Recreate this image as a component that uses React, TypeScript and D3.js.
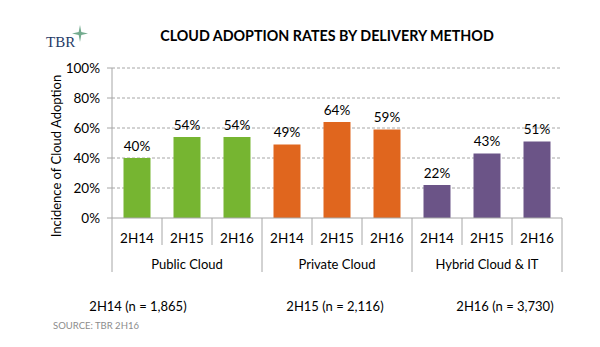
import React from "react";
import * as d3 from "d3";

const groups = ["Public Cloud", "Private Cloud", "Hybrid Cloud & IT"];
const periods = ["2H14", "2H15", "2H16"];
const publicValues = [40, 54, 54];
const privateValues = [49, 64, 59];
const hybridValues = [22, 43, 51];
const groupColors = ["#76b531", "#e0661e", "#6b5487"];
const yTicks = [0, 20, 40, 60, 80, 100];
const sampleLabels = ["2H14 (n = 1,865)", "2H15 (n = 2,116)", "2H16 (n = 3,730)"];

const W = 600, H = 347;
const left = 112, right = 562, top = 68, bottom = 218;
const FONT = "Lato, 'Open Sans', sans-serif";

export default function App() {
  const seriesValues = [publicValues, privateValues, hybridValues];
  const items = groups.flatMap((g, gi) =>
    periods.map((p, pi) => ({ key: `${g}-${p}`, group: g, gi, period: p, value: seriesValues[gi][pi] }))
  );
  const x = d3.scaleBand<string>().domain(items.map((d) => d.key)).range([left, right]).paddingInner(0.46).paddingOuter(0.23);
  const step = x.step();
  const y = d3.scaleLinear().domain([0, 100]).range([bottom, top]);
  const gray = "#a6a6a6";

  return (
    <svg width={W} height={H} style={{ position: "absolute", left: 0, top: 0, background: "#fff" }} fontFamily={FONT}>
      {/* logo */}
      <text x={46} y={47} fontFamily="'Liberation Serif', serif" fontSize={15} fill="#1f3a66">TBR</text>
      <path d="M80,25 L81.3,32 L88,33.5 L81.3,35 L80,42 L78.7,35 L72,33.5 L78.7,32 Z" fill="#5a9c7a" opacity={0.85} />
      {/* title */}
      <text x={327} y={41} textAnchor="middle" fontSize={14.3} fontWeight="bold" fill="#000">
        CLOUD ADOPTION RATES BY DELIVERY METHOD
      </text>
      {/* gridlines */}
      {yTicks.filter((t) => t > 0).map((t) => (
        <line key={t} x1={left} x2={right} y1={y(t)} y2={y(t)} stroke={gray} strokeDasharray="3,2" strokeWidth={1} />
      ))}
      {/* y ticks */}
      {yTicks.map((t) => (
        <g key={"yt" + t}>
          <line x1={left - 5} x2={left} y1={y(t)} y2={y(t)} stroke={gray} />
          <text x={100} y={y(t) + 4.5} textAnchor="end" fontSize={13.5} fill="#000">{t}%</text>
        </g>
      ))}
      <line x1={left} x2={left} y1={top} y2={bottom} stroke={gray} />
      {/* bars */}
      {items.map((d) => (
        <g key={d.key}>
          <rect x={x(d.key)} y={y(d.value)} width={x.bandwidth()} height={bottom - y(d.value)} fill={groupColors[d.gi]} />
          <text x={(x(d.key) as number) + x.bandwidth() / 2} y={y(d.value) - 7.5} textAnchor="middle" fontSize={13.5} fill="#000">
            {d.value}%
          </text>
          <text x={(x(d.key) as number) + x.bandwidth() / 2} y={242.5} textAnchor="middle" fontSize={13.5} fill="#000">
            {d.period}
          </text>
        </g>
      ))}
      {/* x axis */}
      <line x1={left} x2={right} y1={bottom} y2={bottom} stroke={gray} />
      {items.map((d, i) => {
        const xe = left + step * i;
        const isGroup = i % 3 === 0;
        return <line key={"sep" + i} x1={xe} x2={xe} y1={bottom} y2={isGroup ? 272 : 245} stroke={gray} />;
      })}
      <line x1={right} x2={right} y1={bottom} y2={272} stroke={gray} />
      {groups.map((g, gi) => (
        <text key={g} x={left + step * 3 * gi + step * 1.5} y={268.5} textAnchor="middle" fontSize={13} fill="#000">{g}</text>
      ))}
      {/* y label */}
      <text transform={`translate(61,156) rotate(-90)`} textAnchor="middle" fontSize={13} fill="#000">
        Incidence of Cloud Adoption
      </text>
      {/* sample sizes */}
      {sampleLabels.map((s, i) => (
        <text key={s} x={[138, 335, 505][i]} y={311} textAnchor="middle" fontSize={13} fill="#000">{s}</text>
      ))}
      <text x={53} y={329} fontSize={9.5} fill="#8c8c8c">SOURCE: TBR 2H16</text>
    </svg>
  );
}
